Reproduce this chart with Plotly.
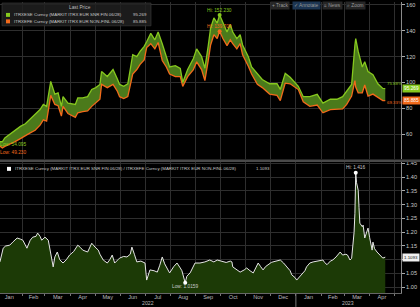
import plotly.graph_objects as go
import pandas as pd

# ---------------- data ----------------
top_dates = [
    "2022-01-05", "2022-01-08", "2022-01-11", "2022-01-17", "2022-01-23", "2022-01-30",
    "2022-02-05", "2022-02-11", "2022-02-17", "2022-02-23", "2022-02-27", "2022-03-03",
    "2022-03-08", "2022-03-13", "2022-03-17", "2022-03-21", "2022-03-23", "2022-03-29",
    "2022-04-07", "2022-04-10", "2022-04-16", "2022-04-22", "2022-04-27", "2022-05-02",
    "2022-05-07", "2022-05-09", "2022-05-16", "2022-05-23", "2022-05-28", "2022-05-31",
    "2022-06-05", "2022-06-10", "2022-06-16", "2022-06-21", "2022-06-25", "2022-06-30",
    "2022-07-03", "2022-07-08", "2022-07-13", "2022-07-17", "2022-07-22", "2022-07-27",
    "2022-07-31", "2022-08-07", "2022-08-13", "2022-08-16", "2022-08-22", "2022-08-29",
    "2022-09-02", "2022-09-08", "2022-09-12", "2022-09-16", "2022-09-19", "2022-09-23",
    "2022-09-27", "2022-09-30", "2022-10-04", "2022-10-09", "2022-10-13", "2022-10-16",
    "2022-10-21", "2022-10-25", "2022-10-28", "2022-11-04", "2022-11-08", "2022-11-15",
    "2022-11-21", "2022-11-30", "2022-12-09", "2022-12-13", "2022-12-19", "2022-12-25",
    "2022-12-28", "2023-01-04", "2023-01-10", "2023-01-18", "2023-01-27", "2023-02-03",
    "2023-02-12", "2023-02-20", "2023-02-27", "2023-03-04", "2023-03-10", "2023-03-14",
    "2023-03-15", "2023-03-18", "2023-03-23", "2023-03-26", "2023-03-30", "2023-04-05",
    "2023-04-11", "2023-04-17", "2023-04-20",
]
snr_fin = [
    54.168, 54.095, 57.0, 60.0, 63.0, 66.0,
    68.0, 71.5, 75.0, 79.0, 83.0, 81.5,
    100.8, 91.0, 92.0, 81.5, 89.0, 84.0,
    83.0, 88.0, 88.0, 89.0, 94.6, 96.0,
    98.5, 108.5, 104.6, 110.0, 103.0, 98.5,
    97.0, 99.0, 121.5, 120.0, 124.0, 128.0,
    131.5, 138.0, 133.0, 139.0, 130.0, 120.0,
    112.0, 113.0, 110.8, 100.0, 110.0, 118.5,
    126.0, 120.0, 111.0, 128.0, 142.0, 150.0,
    146.0, 152.23, 146.0, 139.0, 145.0, 139.0,
    134.0, 137.0, 129.0, 120.0, 112.0, 107.0,
    102.3, 99.0, 99.0, 94.6, 107.0, 104.0,
    102.0, 97.0, 89.0, 89.0, 90.8, 84.0,
    87.0, 87.0, 89.0, 93.0, 98.5, 129.0,
    134.0, 124.0, 112.0, 116.0, 108.5, 106.0,
    99.0, 95.4, 95.269,
]
non_fin = [
    50.72, 49.23, 50.5, 52.0, 54.0, 56.5,
    59.0, 61.0, 63.0, 67.0, 71.0, 70.0,
    90.0, 83.0, 82.0, 74.0, 81.5, 76.0,
    73.0, 76.5, 77.5, 78.0, 81.5, 84.0,
    87.0, 98.5, 96.0, 98.5, 93.5, 89.0,
    87.5, 89.0, 106.5, 110.0, 114.0, 117.5,
    127.0, 130.0, 126.0, 131.0, 117.0, 112.0,
    106.5, 104.5, 104.5, 97.0, 104.5, 110.0,
    116.0, 110.0, 101.5, 116.5, 129.0, 137.0,
    134.0, 139.7, 134.0, 128.5, 133.0, 130.0,
    126.0, 130.0, 121.5, 112.5, 106.5, 98.5,
    96.0, 91.0, 90.0, 86.0, 99.5, 99.0,
    97.5, 94.5, 85.0, 81.5, 82.5, 76.5,
    79.0, 79.0, 79.5, 83.0, 89.5, 101.5,
    96.5, 92.0, 92.0, 98.0, 89.5, 91.0,
    88.5, 86.0, 85.885,
]

ratio_dates = [
    "2022-01-05", "2022-01-09", "2022-01-12", "2022-01-17", "2022-01-21", "2022-01-26",
    "2022-01-30", "2022-02-02", "2022-02-07", "2022-02-11", "2022-02-14", "2022-02-18",
    "2022-02-20", "2022-02-23", "2022-02-25", "2022-03-01", "2022-03-05", "2022-03-08",
    "2022-03-11", "2022-03-13", "2022-03-16", "2022-03-19", "2022-03-23", "2022-03-27",
    "2022-03-31", "2022-04-05", "2022-04-10", "2022-04-13", "2022-04-16", "2022-04-22",
    "2022-04-27", "2022-05-01", "2022-05-05", "2022-05-07", "2022-05-11", "2022-05-16",
    "2022-05-19", "2022-05-22", "2022-05-25", "2022-05-29", "2022-05-31", "2022-06-05",
    "2022-06-09", "2022-06-13", "2022-06-15", "2022-06-18", "2022-06-21", "2022-06-26",
    "2022-07-01", "2022-07-03", "2022-07-07", "2022-07-12", "2022-07-16", "2022-07-19",
    "2022-07-22", "2022-07-25", "2022-07-28", "2022-07-31", "2022-08-05", "2022-08-09",
    "2022-08-13", "2022-08-15", "2022-08-19", "2022-08-21", "2022-08-25", "2022-08-29",
    "2022-08-31", "2022-09-06", "2022-09-12", "2022-09-18", "2022-09-23", "2022-09-27",
    "2022-10-03", "2022-10-08", "2022-10-13", "2022-10-15", "2022-10-16", "2022-10-20",
    "2022-10-25", "2022-10-30", "2022-11-02", "2022-11-06", "2022-11-10", "2022-11-13",
    "2022-11-16", "2022-11-19", "2022-11-22", "2022-11-25", "2022-11-28", "2022-12-02",
    "2022-12-04", "2022-12-09", "2022-12-13", "2022-12-17", "2022-12-21", "2022-12-25",
    "2022-12-27", "2022-12-31", "2023-01-02", "2023-01-06", "2023-01-08", "2023-01-12",
    "2023-01-14", "2023-01-18", "2023-01-22", "2023-01-28", "2023-02-03", "2023-02-05",
    "2023-02-08", "2023-02-12", "2023-02-15", "2023-02-19", "2023-02-24", "2023-02-27",
    "2023-03-03", "2023-03-05", "2023-03-08", "2023-03-10", "2023-03-13", "2023-03-14",
    "2023-03-15", "2023-03-16", "2023-03-18", "2023-03-19", "2023-03-20", "2023-03-23",
    "2023-03-24", "2023-03-26", "2023-03-29", "2023-03-30", "2023-04-01", "2023-04-04",
    "2023-04-05", "2023-04-07", "2023-04-10", "2023-04-14", "2023-04-16", "2023-04-17",
    "2023-04-20",
]
ratio = [
    1.092, 1.142, 1.150, 1.153, 1.165, 1.179,
    1.175, 1.171, 1.142, 1.171, 1.182, 1.185,
    1.197, 1.185, 1.171, 1.182, 1.171, 1.120,
    1.074, 1.110, 1.128, 1.100, 1.088, 1.100,
    1.117, 1.130, 1.153, 1.145, 1.135, 1.128,
    1.160, 1.146, 1.135, 1.120, 1.099, 1.088,
    1.100, 1.117, 1.088, 1.100, 1.106, 1.112,
    1.110, 1.120, 1.146, 1.120, 1.092, 1.095,
    1.088, 1.026, 1.063, 1.060, 1.055, 1.080,
    1.110, 1.085, 1.070, 1.052, 1.075, 1.088,
    1.070, 1.060, 1.0159, 1.040, 1.052, 1.075,
    1.088, 1.088, 1.092, 1.099, 1.092, 1.099,
    1.095, 1.090, 1.095, 1.092, 1.074, 1.065,
    1.055, 1.063, 1.070, 1.060, 1.052, 1.070,
    1.088, 1.075, 1.063, 1.075, 1.082, 1.090,
    1.092, 1.095, 1.099, 1.088, 1.074, 1.060,
    1.045, 1.035, 1.026, 1.040, 1.045, 1.060,
    1.074, 1.088, 1.092, 1.095, 1.099, 1.090,
    1.082, 1.095, 1.099, 1.110, 1.128, 1.117,
    1.120, 1.117, 1.099, 1.105, 1.200, 1.269,
    1.416, 1.380, 1.353, 1.290, 1.233, 1.220,
    1.226, 1.179, 1.208, 1.215, 1.180, 1.135,
    1.164, 1.140, 1.128, 1.117, 1.112, 1.106,
    1.1093,
]

name_fin = "ITRXESE Curncy (MARKIT ITRX EUR SNR FIN 06/28)"
name_nonfin = "ITRXEFE Curncy (MARKIT ITRX EUR NON-FINL 06/28)"
legend_header = "Last Price"
toolbar_labels = ["+ Track", "\u2713 Annotate", "\u2261 News", "\u2315 Zoom"]
x_range = ["2022-01-05 03:00", "2023-05-09 05:00"]
top_range = [40.8, 162.3]
bot_range = [0.979, 1.454]
bot_ticks = [1.00, 1.05, 1.10, 1.15, 1.20, 1.25, 1.30, 1.35, 1.40, 1.45]

# ---------------- styles ----------------
FONT = "Liberation Sans, Arial, sans-serif"
GREEN = "#86c81e"
ORANGE = "#f26a1b"
BAND = "#4b7a1b"
BOTFILL = "#1c3a06"
GRID = "#2e2e2e"
TXT = "#c8c8c8"
FS = 4.8
LFS = 4.4
TICKFS = 5.6

W, H = 420, 307
ML, MR, MT, MB = 0, 19, 0, 14
PW, PH = W - ML - MR, H - MT - MB


def px(x):
    return x / PW


def py(y):
    return (PH - y) / PH


df_top = pd.DataFrame({"d": pd.to_datetime(top_dates), "g": snr_fin, "o": non_fin})
df_r = pd.DataFrame({"d": pd.to_datetime(ratio_dates), "r": ratio})

fig = go.Figure()
fig.add_trace(go.Scatter(x=df_top.d, y=df_top.o, xaxis="x2", yaxis="y", mode="lines",
                         line=dict(color=ORANGE, width=1.3), hoverinfo="skip"))
fig.add_trace(go.Scatter(x=df_top.d, y=df_top.g, xaxis="x2", yaxis="y", mode="lines",
                         line=dict(color=GREEN, width=1.3), fill="tonexty",
                         fillcolor=BAND, hoverinfo="skip"))
fig.add_trace(go.Scatter(x=df_r.d, y=df_r.r, xaxis="x", yaxis="y2", mode="lines",
                         line=dict(color="#e6e6e6", width=1), fill="tozeroy",
                         fillcolor=BOTFILL, hoverinfo="skip"))

# hi / low points
ig_hi, io_hi = df_top.g.idxmax(), df_top.o.idxmax()
ig_lo, io_lo = df_top.g.idxmin(), df_top.o.idxmin()
ir_hi, ir_lo = df_r.r.idxmax(), df_r.r.idxmin()
fig.add_trace(go.Scatter(x=[df_top.d[ig_hi]], y=[df_top.g[ig_hi]], xaxis="x2", yaxis="y",
                         mode="markers", marker=dict(color=GREEN, size=4), hoverinfo="skip"))
fig.add_trace(go.Scatter(x=[df_top.d[io_hi]], y=[df_top.o[io_hi]], xaxis="x2", yaxis="y",
                         mode="markers", marker=dict(color=ORANGE, size=4), hoverinfo="skip"))
fig.add_trace(go.Scatter(x=[df_r.d[ir_hi], df_r.d[ir_lo]], y=[df_r.r[ir_hi], df_r.r[ir_lo]],
                         xaxis="x", yaxis="y2", mode="markers",
                         marker=dict(color="#ffffff", size=4), hoverinfo="skip"))

ann = []


def note(text, x, y, xref="paper", yref="paper", color=TXT, xanchor="center",
         yanchor="middle", xshift=0, yshift=0, bg=None, size=FS):
    d = dict(text=text, x=x, y=y, xref=xref, yref=yref, showarrow=False,
             font=dict(family=FONT, size=size, color=color), xanchor=xanchor,
             yanchor=yanchor, xshift=xshift, yshift=yshift, borderpad=1)
    if bg:
        d["bgcolor"] = bg
    ann.append(d)


note(f"Hi: {df_top.g[ig_hi]:.3f}", df_top.d[ig_hi], df_top.g[ig_hi], "x2", "y", GREEN, yshift=5)
note(f"Hi: {df_top.o[io_hi]:.3f}", df_top.d[io_hi], df_top.o[io_hi], "x2", "y", ORANGE, yshift=5)
note(f"Low: {df_top.g[ig_lo]:.3f}", df_top.d[ig_lo], df_top.g[ig_lo], "x2", "y", GREEN,
     xanchor="left", xshift=-4, yshift=-3)
note(f"Low: {df_top.o[io_lo]:.3f}", df_top.d[io_lo], df_top.o[io_lo], "x2", "y", ORANGE,
     xanchor="left", xshift=-4, yshift=-4)
note(f"Hi: {df_r.r[ir_hi]:.3f}", df_r.d[ir_hi], df_r.r[ir_hi], "x", "y2", TXT, yshift=5)
note(f"Low: {df_r.r[ir_lo]:.4f}", df_r.d[ir_lo], df_r.r[ir_lo], "x", "y2", TXT, yshift=-4)

# % change labels at line ends
g_chg = (snr_fin[-1] / snr_fin[0] - 1) * 100
o_chg = (non_fin[-1] / non_fin[0] - 1) * 100
note(f"{g_chg:.2f}%", df_top.d.iloc[-1], snr_fin[-1], "x2", "y", GREEN, xanchor="left",
     xshift=0, yshift=5, size=4.4)
note(f"{o_chg:.2f}%", df_top.d.iloc[-1], non_fin[-1], "x2", "y", ORANGE, xanchor="left",
     xshift=0, yshift=-2, size=4.4)

# right-axis value tags
note(f"{snr_fin[-1]:.3f}", 1, snr_fin[-1], "paper", "y", "#ffffff", xanchor="left", xshift=1,
     bg=GREEN)
note(f"{non_fin[-1]:.3f}", 1, non_fin[-1], "paper", "y", "#ffffff", xanchor="left", xshift=1,
     bg=ORANGE)
note(f"{ratio[-1]:.4f}", 1, ratio[-1], "paper", "y2", "#111111", xanchor="left", xshift=1,
     bg="#f0f0f0", size=4.4)

# top legend
note(legend_header, px(80), py(6), color="#bdbdbd")
note(name_fin, px(12), py(13), xanchor="left", size=LFS)
note(f"{snr_fin[-1]:.3f}", px(149), py(13), xanchor="right", size=LFS)
note(name_nonfin, px(12), py(19.5), xanchor="left", size=LFS)
note(f"{non_fin[-1]:.3f}", px(149), py(19.5), xanchor="right", size=LFS)

# bottom legend
note(f"{name_fin} / {name_nonfin}", px(13), py(168), xanchor="left", size=LFS)
note(f"{ratio[-1]:.4f}", px(272), py(168), xanchor="right", size=LFS)

# toolbar
for lab, cx, bg in zip(toolbar_labels, [280, 306, 332, 355],
                       ["#262626", "#1c3552", "#262626", "#262626"]):
    note(lab, px(cx), py(4), color="#9a9a9a", bg=bg)

# year labels
r0, r1 = pd.Timestamp(x_range[0]), pd.Timestamp(x_range[1])
ny = pd.Timestamp("2023-01-01")
note("2022", r0 + (ny - r0) / 2, py(303), "x", "paper", "#bdbdbd", size=5.2)
note("2023", ny + (r1 - ny) / 2, py(303), "x", "paper", "#bdbdbd", size=5.2)

shapes = [
    dict(type="rect", xref="paper", yref="paper", x0=px(2), x1=px(151), y0=py(1), y1=py(24),
         fillcolor="rgba(32,32,32,0.85)", line=dict(color="#3c3c3c", width=0.6), layer="above"),
    dict(type="rect", xref="paper", yref="paper", x0=px(6), x1=px(10), y0=py(11), y1=py(15),
         fillcolor=GREEN, line=dict(width=0), layer="above"),
    dict(type="rect", xref="paper", yref="paper", x0=px(6), x1=px(10), y0=py(17.5), y1=py(21.5),
         fillcolor=ORANGE, line=dict(width=0), layer="above"),
    dict(type="rect", xref="paper", yref="paper", x0=px(7), x1=px(11), y0=py(166), y1=py(170),
         fillcolor="#ffffff", line=dict(width=0), layer="above"),
    dict(type="rect", xref="paper", yref="paper", x0=0, x1=W / PW, y0=py(161), y1=py(158.5),
         fillcolor="#4a4a4a", line=dict(width=0), layer="above"),
    dict(type="line", xref="x", yref="paper", x0="2023-01-01", x1="2023-01-01",
         y0=py(294), y1=py(307), line=dict(color="#777777", width=1)),
]

# the last-value tag sits where the 1.10 label would be, so that label is left blank
last_tick = min(bot_ticks, key=lambda t: abs(t - ratio[-1]))
bot_text = ["" if t == last_tick else f"{t:.2f}" for t in bot_ticks]

axis_common = dict(showgrid=True, gridcolor=GRID, gridwidth=1, zeroline=False)

fig.update_layout(
    width=W, height=H, margin=dict(l=ML, r=MR, t=MT, b=MB),
    paper_bgcolor="#000000", plot_bgcolor="#000000", showlegend=False,
    font=dict(family=FONT, size=FS, color=TXT),
    xaxis=dict(**axis_common, anchor="y2", domain=[0, 1], range=x_range, type="date",
               dtick="M1", tick0="2022-01-01", tickformat="%b", ticklabelmode="period",
               ticks="outside", ticklen=2, tickcolor="#777777", showline=True,
               linecolor="#666666", ticklabelstandoff=-4,
               tickfont=dict(size=TICKFS, color="#bdbdbd")),
    xaxis2=dict(**axis_common, anchor="y", matches="x", range=x_range, type="date",
                dtick="M1", tick0="2022-01-01", showticklabels=False, ticks=""),
    yaxis=dict(**axis_common, anchor="x2", domain=[py(158), 1], range=top_range, side="right",
               dtick=20, tick0=0, ticks="outside", ticklen=3, tickcolor="#aaaaaa",
               showline=True, linecolor="#8a8a8a", tickfont=dict(size=TICKFS, color=TXT)),
    yaxis2=dict(**axis_common, anchor="x", domain=[0, py(161.5)], range=bot_range, side="right",
                tickmode="array", tickvals=bot_ticks, ticktext=bot_text, ticks="outside",
                ticklen=3, tickcolor="#aaaaaa", showline=True, linecolor="#8a8a8a",
                tickfont=dict(size=TICKFS, color=TXT)),
    annotations=ann, shapes=shapes,
)

fig.write_html("out.html")
